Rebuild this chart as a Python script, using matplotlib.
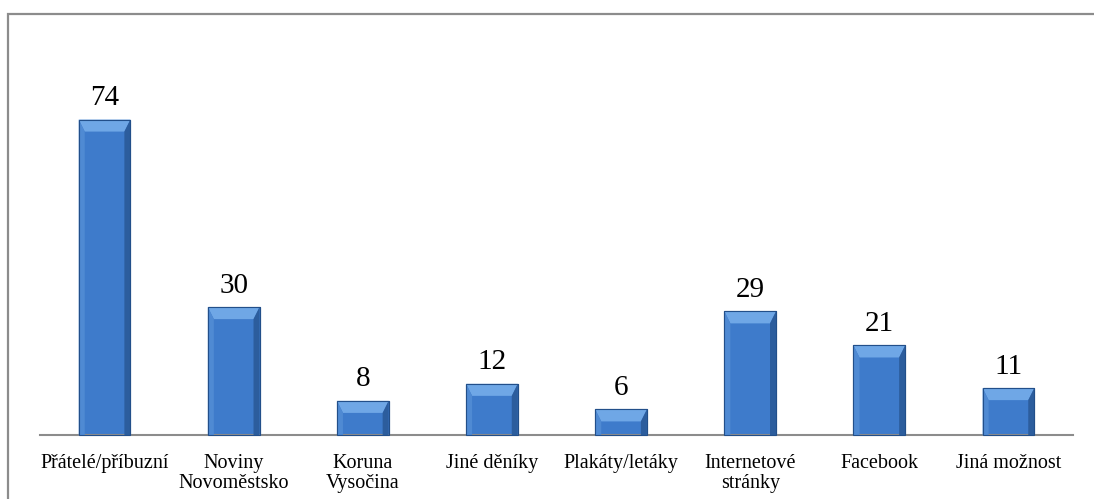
import matplotlib.pyplot as plt
from matplotlib.patches import Polygon, Rectangle
from matplotlib.transforms import IdentityTransform

categories = ['Přátelé/příbuzní', 'Noviny\nNovoměstsko', 'Koruna\nVysočina', 'Jiné děníky',
              'Plakáty/letáky', 'Internetové\nstránky', 'Facebook', 'Jiná možnost']
counts = [74, 30, 8, 12, 6, 29, 21, 11]

plt.rcParams['font.family'] = ['Liberation Serif', 'DejaVu Serif']

fig = plt.figure(figsize=(10.94, 4.99), dpi=100)
W, H = 1094, 499
ax = fig.add_axes([40 / W, 64 / H, 1033 / W, 341 / H])

x = range(len(categories))
bars = ax.bar(x, counts, width=0.4, color='#3e7bcb', edgecolor='#224f8a', linewidth=0.8, zorder=2)
ax.set_xlim(-0.5, len(categories) - 0.5)
ax.set_ylim(0, 80)

# bevelled look: light top, shaded sides
fig.canvas.draw()
for b in bars:
    (x0, y0), (x1, y1) = ax.transData.transform([(b.get_x(), 0), (b.get_x() + b.get_width(), b.get_height())])
    bt, bs = 12, 6
    bt = min(bt, (y1 - y0) / 2)
    faces = [
        ([(x0, y1), (x1, y1), (x1 - bs, y1 - bt), (x0 + bs, y1 - bt)], '#6fa7e6'),
        ([(x0, y0), (x0, y1), (x0 + bs, y1 - bt), (x0 + bs, y0)], '#4f8ad3'),
        ([(x1, y0), (x1, y1), (x1 - bs, y1 - bt), (x1 - bs, y0)], '#2c5d9d'),
    ]
    for pts, c in faces:
        fig.patches.append(Polygon(pts, closed=True, facecolor=c, edgecolor='none',
                                   transform=IdentityTransform(), zorder=3))
    fig.patches.append(Rectangle((x0, y0), x1 - x0, y1 - y0, facecolor='none', edgecolor='#224f8a',
                                 linewidth=0.8, transform=IdentityTransform(), zorder=4))

for xi, v in zip(x, counts):
    ax.text(xi, v + 2.0, str(v), ha='center', va='bottom', fontsize=21)

ax.set_xticks(list(x))
ax.set_xticklabels(categories, fontsize=14.5, linespacing=1.05)
ax.tick_params(axis='x', length=0, pad=14)
ax.set_yticks([])
for s in ['top', 'right', 'left']:
    ax.spines[s].set_visible(False)
ax.spines['bottom'].set_color('#8c8c8c')
ax.spines['bottom'].set_linewidth(1.5)
ax.spines['bottom'].set_zorder(5)

# outer chart frame
fig.patches.append(Rectangle((8 / W, -0.1), 1.2, (H - 14) / H + 0.1, transform=fig.transFigure,
                             facecolor='none', edgecolor='#8c8c8c', linewidth=1.6))

fig.savefig('out.png', dpi=100)
